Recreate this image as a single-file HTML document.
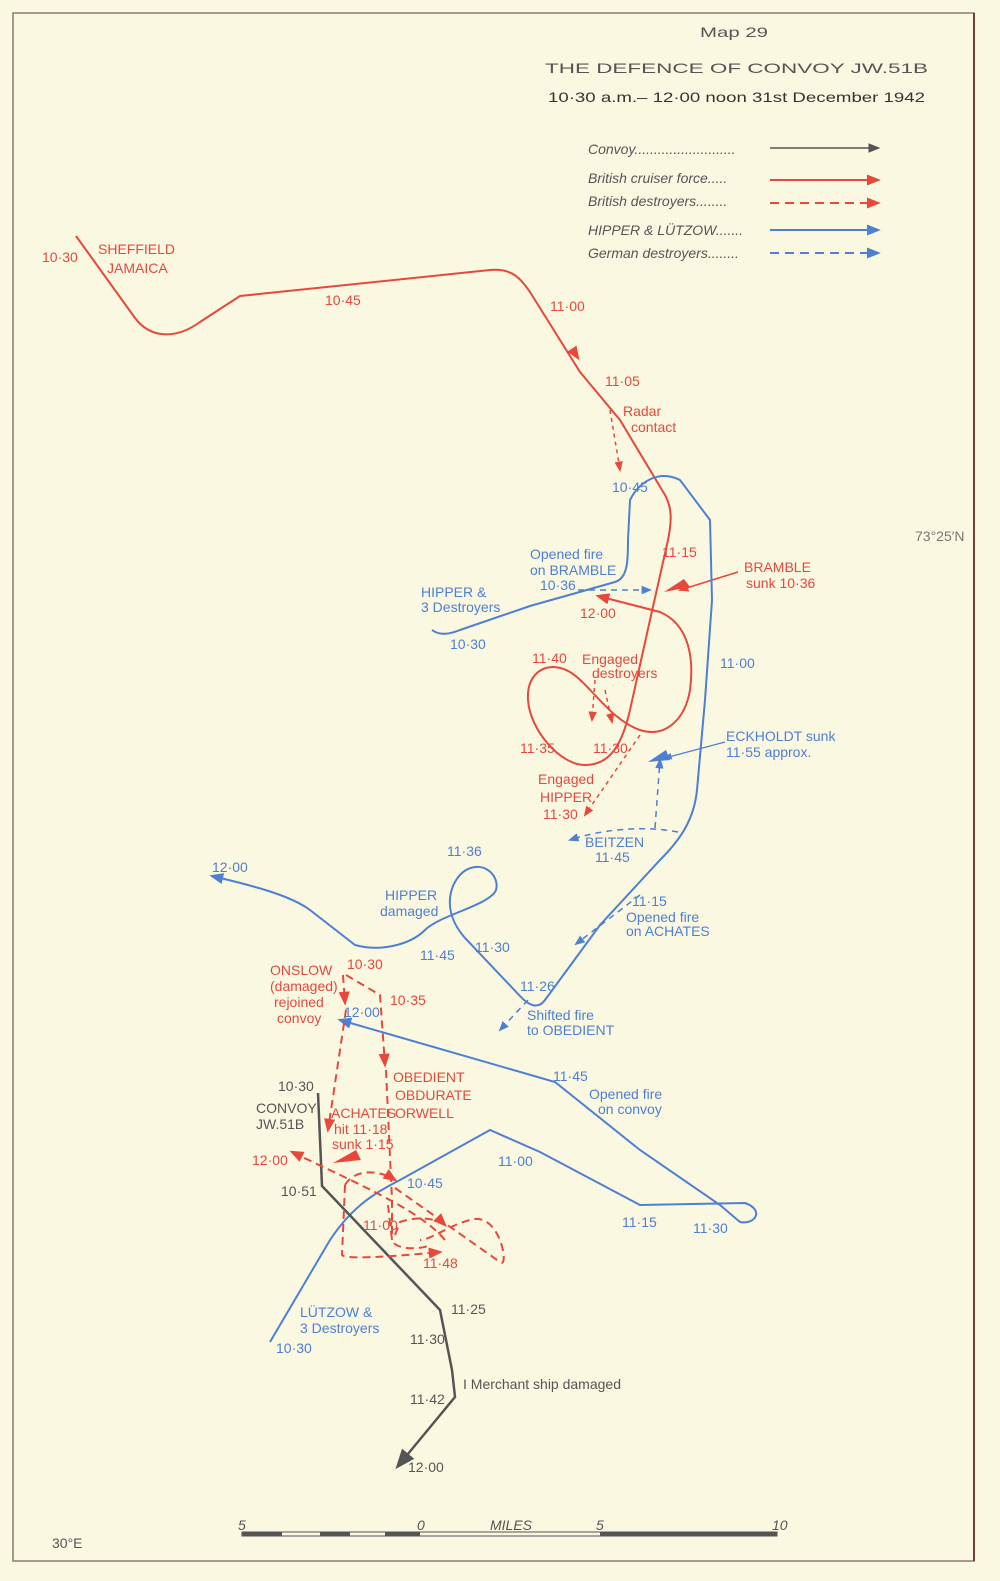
<!DOCTYPE html>
<html><head><meta charset="utf-8"><style>
html,body{margin:0;padding:0;background:#fbf8e2}
svg{display:block}
text{font-family:"Liberation Sans",sans-serif;font-size:14px}
.r{fill:#e8473b}.b{fill:#4d7fd2}.g{fill:#555}
</style></head><body>
<svg width="1000" height="1581" viewBox="0 0 1000 1581" xmlns="http://www.w3.org/2000/svg">
<defs>
<marker id="ar" viewBox="0 0 10 10" refX="8" refY="5" markerWidth="7" markerHeight="7" orient="auto"><path d="M0,1 L10,5 L0,9 z" fill="#e8473b"/></marker>
<marker id="ab" viewBox="0 0 10 10" refX="8" refY="5" markerWidth="7" markerHeight="7" orient="auto"><path d="M0,1 L10,5 L0,9 z" fill="#4d7fd2"/></marker>
<marker id="ag" viewBox="0 0 10 10" refX="8" refY="5" markerWidth="8" markerHeight="8" orient="auto"><path d="M0,1 L10,5 L0,9 z" fill="#555"/></marker>
</defs>
<rect x="0" y="0" width="1000" height="1581" fill="#fbf8e2"/>
<rect x="13" y="13" width="961" height="1548" fill="none" stroke="#8a7a70" stroke-width="1.5"/>
<line x1="974" y1="13" x2="974" y2="1561" stroke="#7a3b3b" stroke-width="2"/>

<text x="700" y="37" class="g" font-size="18" textLength="68" lengthAdjust="spacingAndGlyphs">Map 29</text>
<text x="545" y="73" class="g" font-size="21" textLength="383" lengthAdjust="spacingAndGlyphs">THE DEFENCE OF CONVOY JW.51B</text>
<text x="548" y="102" fill="#333" font-size="20" textLength="377" lengthAdjust="spacingAndGlyphs">10·30 a.m.– 12·00 noon  31st December 1942</text>

<g font-style="italic" font-size="14" class="g">
<text x="588" y="154">Convoy..........................</text>
<text x="588" y="183">British cruiser force.....</text>
<text x="588" y="206">British destroyers........</text>
<text x="588" y="235">HIPPER &amp; LÜTZOW.......</text>
<text x="588" y="258">German destroyers........</text>
</g>
<line x1="770" y1="148" x2="878" y2="148" stroke="#555" stroke-width="1.5" marker-end="url(#ag)"/>
<line x1="770" y1="180" x2="878" y2="180" stroke="#e8473b" stroke-width="2" marker-end="url(#ar)"/>
<line x1="770" y1="203" x2="878" y2="203" stroke="#e8473b" stroke-width="2" stroke-dasharray="9,6" marker-end="url(#ar)"/>
<line x1="770" y1="230" x2="878" y2="230" stroke="#4d7fd2" stroke-width="2" marker-end="url(#ab)"/>
<line x1="770" y1="253" x2="878" y2="253" stroke="#4d7fd2" stroke-width="2" stroke-dasharray="9,6" marker-end="url(#ab)"/>

<g fill="none" stroke="#e8473b" stroke-width="2">
<path d="M76,236 L135,318 C150,338 175,340 200,322 L240,296 L490,270 C512,268 520,278 530,292 L580,372 L620,420 L665,495 C672,508 672,520 668,540 L650,620 L630,710 C622,745 610,765 585,765 C560,765 530,730 528,700 C526,670 550,660 570,672 C590,684 610,720 640,730 C665,738 685,720 690,690 C694,660 690,625 660,612 L598,596" marker-end="url(#ar)"/>
<path d="M576,355 l2,3" marker-end="url(#ar)"/>
</g>
<g fill="none" stroke="#e8473b" stroke-width="1.5" stroke-dasharray="4,4">
<path d="M610,410 L620,470" marker-end="url(#ar)"/>
<path d="M640,735 L585,815" marker-end="url(#ar)"/>
<path d="M595,680 L592,720" marker-end="url(#ar)"/>
<path d="M605,690 L612,722" marker-end="url(#ar)"/>
</g>
<line x1="738" y1="572" x2="680" y2="590" stroke="#e8473b" stroke-width="1.5" marker-end="url(#ar)"/>
<path d="M664,592 l26,-5 l-6,-8 z" fill="#e8473b"/>

<g fill="none" stroke="#4d7fd2" stroke-width="2">
<path d="M432,630 C440,636 450,634 460,630 L530,606 L615,582 C628,578 628,560 628,540 L630,500 C640,480 660,470 680,480 L710,520 L712,600 L705,700 L697,790 C694,820 680,840 660,860 L600,925 L545,1000 C538,1010 528,1005 520,996 L465,938 C440,910 450,880 466,870 C484,860 500,876 496,890 C490,905 440,915 425,930 C410,945 380,952 355,945 L310,910 C290,895 250,885 212,876" marker-end="url(#ab)"/>
</g>
<g fill="none" stroke="#4d7fd2" stroke-width="2">
<path d="M270,1342 L330,1240 C350,1210 370,1195 400,1180 L490,1130 L540,1152 L640,1205 L745,1203 C765,1210 755,1225 740,1222 L720,1205 L640,1150 L555,1082 L340,1020" marker-end="url(#ab)"/>
</g>
<g fill="none" stroke="#4d7fd2" stroke-width="1.5" stroke-dasharray="6,5">
<path d="M578,590 L650,590" marker-end="url(#ab)"/>
<path d="M655,828 L660,760" marker-end="url(#ab)"/>
<path d="M678,832 C640,825 600,830 570,840" marker-end="url(#ab)"/>
<path d="M640,895 L576,944" marker-end="url(#ab)"/>
<path d="M528,1000 L500,1030" marker-end="url(#ab)"/>
</g>
<line x1="725" y1="742" x2="665" y2="758" stroke="#4d7fd2" stroke-width="1.2" marker-end="url(#ab)"/>
<path d="M648,762 l22,-2 l-4,-10 z" fill="#4d7fd2"/>

<path d="M318,1093 L322,1186 L440,1310 L452,1370 L455,1397 L398,1466" fill="none" stroke="#555" stroke-width="2.5" marker-end="url(#ag)"/>

<g fill="none" stroke="#e8473b" stroke-width="2" stroke-dasharray="8,5">
<path d="M343,975 L345,1003"  marker-end="url(#ar)"/>
<path d="M346,975 L380,995 L385,1065" marker-end="url(#ar)"/>
<path d="M346,1010 L328,1130" marker-end="url(#ar)"/>
<path d="M386,1070 L392,1200 L392,1240"/>
<path d="M445,1240 C420,1210 360,1185 292,1152" marker-end="url(#ar)"/>
<path d="M388,1205 L392,1240 C395,1250 420,1250 430,1245" />
<path d="M345,1185 C355,1168 380,1170 395,1180" marker-end="url(#ar)"/>
<path d="M345,1185 L342,1255 C345,1260 400,1256 440,1252" marker-end="url(#ar)"/>
<path d="M395,1235 L400,1222 C420,1215 440,1220 445,1225" marker-end="url(#ar)"/>
<path d="M395,1188 L500,1262 C510,1270 500,1210 470,1220 C450,1225 430,1240 420,1240"/>
</g>
<path d="M333,1163 l28,-3 l-5,-10 z" fill="#e8473b"/>

<g class="r" font-size="15">
<text x="42" y="262">10·30</text>
<text x="98" y="254">SHEFFIELD</text>
<text x="107" y="273">JAMAICA</text>
<text x="325" y="305">10·45</text>
<text x="550" y="311">11·00</text>
<text x="605" y="386">11·05</text>
<text x="623" y="416">Radar</text>
<text x="631" y="432">contact</text>
<text x="662" y="557">11·15</text>
<text x="744" y="572">BRAMBLE</text>
<text x="746" y="588">sunk 10·36</text>
<text x="580" y="618">12·00</text>
<text x="532" y="663">11·40</text>
<text x="582" y="664">Engaged</text>
<text x="592" y="678">destroyers</text>
<text x="520" y="753">11·35</text>
<text x="593" y="753">11·30</text>
<text x="538" y="784">Engaged</text>
<text x="540" y="802">HIPPER</text>
<text x="543" y="819">11·30</text>
<text x="270" y="975">ONSLOW</text>
<text x="270" y="991">(damaged)</text>
<text x="274" y="1007">rejoined</text>
<text x="277" y="1023">convoy</text>
<text x="347" y="969">10·30</text>
<text x="390" y="1005">10·35</text>
<text x="393" y="1082">OBEDIENT</text>
<text x="395" y="1100">OBDURATE</text>
<text x="395" y="1118">ORWELL</text>
<text x="331" y="1118" font-size="13">ACHATES</text>
<text x="334" y="1134" font-size="13">hit 11·18</text>
<text x="332" y="1149" font-size="13">sunk 1·15</text>
<text x="252" y="1165">12·00</text>
<text x="363" y="1230">11·00</text>
<text x="423" y="1268">11·48</text>
</g>
<g class="b" font-size="15">
<text x="612" y="492">10·45</text>
<text x="530" y="559">Opened fire</text>
<text x="530" y="575">on BRAMBLE</text>
<text x="540" y="590">10·36</text>
<text x="421" y="597">HIPPER &amp;</text>
<text x="421" y="612">3 Destroyers</text>
<text x="450" y="649">10·30</text>
<text x="720" y="668">11·00</text>
<text x="726" y="741">ECKHOLDT sunk</text>
<text x="726" y="757">11·55 approx.</text>
<text x="585" y="847">BEITZEN</text>
<text x="595" y="862">11·45</text>
<text x="447" y="856">11·36</text>
<text x="385" y="900">HIPPER</text>
<text x="380" y="916">damaged</text>
<text x="212" y="872">12·00</text>
<text x="632" y="906">11·15</text>
<text x="626" y="922">Opened fire</text>
<text x="626" y="936">on ACHATES</text>
<text x="420" y="960">11·45</text>
<text x="475" y="952">11·30</text>
<text x="520" y="991">11·26</text>
<text x="527" y="1020">Shifted fire</text>
<text x="527" y="1035">to OBEDIENT</text>
<text x="344" y="1017">12·00</text>
<text x="553" y="1081">11·45</text>
<text x="589" y="1099">Opened fire</text>
<text x="598" y="1114">on convoy</text>
<text x="498" y="1166">11·00</text>
<text x="407" y="1188">10·45</text>
<text x="622" y="1227">11·15</text>
<text x="693" y="1233">11·30</text>
<text x="300" y="1317">LÜTZOW &amp;</text>
<text x="300" y="1333">3 Destroyers</text>
<text x="276" y="1353">10·30</text>
<text x="915" y="541" font-size="13" fill="#777">73°25′N</text>
</g>
<g class="g" font-size="15">
<text x="278" y="1091">10·30</text>
<text x="256" y="1113">CONVOY</text>
<text x="256" y="1129">JW.51B</text>
<text x="281" y="1196">10·51</text>
<text x="451" y="1314">11·25</text>
<text x="410" y="1344">11·30</text>
<text x="463" y="1389">I Merchant ship damaged</text>
<text x="410" y="1404">11·42</text>
<text x="408" y="1472">12·00</text>
<text x="52" y="1548">30°E</text>
<text x="238" y="1530" font-size="12" font-style="italic">5</text>
<text x="417" y="1530" font-size="12" font-style="italic">0</text>
<text x="490" y="1530" font-size="12" font-style="italic">MILES</text>
<text x="596" y="1530" font-size="12" font-style="italic">5</text>
<text x="772" y="1530" font-size="12" font-style="italic">10</text>
</g>
<rect x="242" y="1532" width="535" height="4" fill="none" stroke="#555"/>
<rect x="242" y="1532" width="40" height="4" fill="#555"/>
<rect x="320" y="1532" width="30" height="4" fill="#555"/>
<rect x="385" y="1532" width="35" height="4" fill="#555"/>
<rect x="600" y="1532" width="177" height="4" fill="#555"/>
</svg>
</body></html>
